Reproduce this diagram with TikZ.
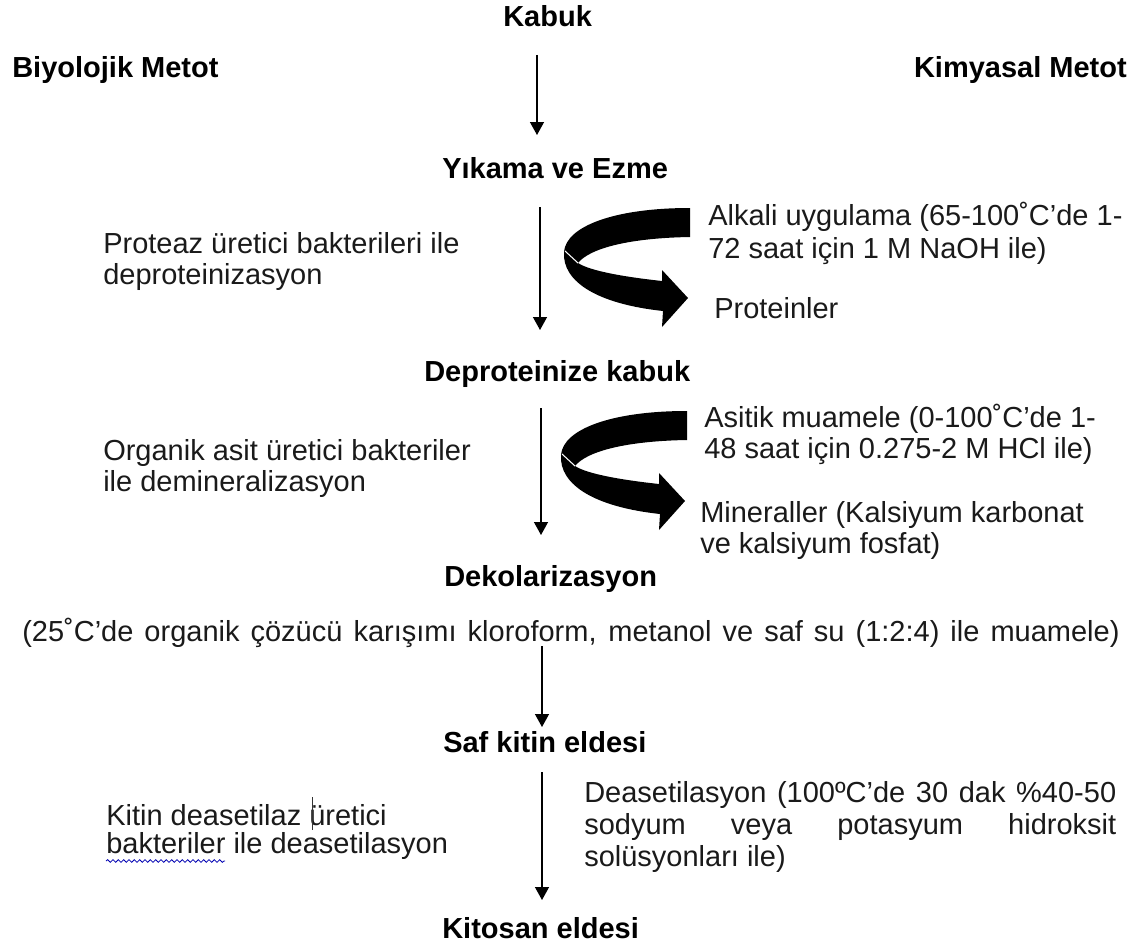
\documentclass[tikz,border=0pt]{standalone}
\usepackage{fontspec}
\setmainfont{Liberation Sans}
\usetikzlibrary{arrows.meta,decorations.pathmorphing}
\newcommand\fsz{\fontsize{21.75}{26}\selectfont}
\definecolor{ink}{HTML}{1A1A1A}
\begin{document}
\begin{tikzpicture}[x=0.75pt,y=-0.75pt,
  txt/.style={anchor=base west,inner sep=0pt,font=\fsz,text=ink},
  ttl/.style={anchor=base west,inner sep=0pt,font=\fsz\bfseries,text=black},
  flow/.style={line width=1pt,-{Triangle[length=9.75pt,width=10.5pt]}},
  curl/.pic={
    \fill (690,208) .. controls (615,208) and (566,226) .. (564,252)
      .. controls (562,282) and (598,304) .. (663,311)
      -- (662,327) -- (688,298) -- (662,270) -- (662,281)
      .. controls (625,277) and (590,271) .. (578,263)
      .. controls (590,248) and (630,238) .. (690,237) -- cycle;
    \draw[white,line width=0.8pt] (565,251) -- (578,263);
  }]
\useasboundingbox (0,0) rectangle (1146,949);
\fill[white] (0,0) rectangle (1146,949);

% titles
\node[ttl] (kabuk) at (503,27) {Kabuk};
\node[ttl] (biyo) at (12,78) {Biyolojik Metot};
\node[ttl,anchor=base east] (kimya) at (1127,78) {Kimyasal Metot};
\node[ttl] (yikama) at (442,178) {Yıkama ve Ezme};
\node[ttl] (deprot) at (424,381) {Deproteinize kabuk};
\node[ttl] (dekol) at (444,586) {Dekolarizasyon};
\node[ttl] (saf) at (443,752) {Saf kitin eldesi};
\node[ttl] (kitosan) at (442,938) {Kitosan eldesi};

% left texts
\node[txt] (prot1) at (103,253) {Proteaz üretici bakterileri ile};
\node[txt] (prot2) at (103,284) {deproteinizasyon};
\node[txt] (org1) at (103,460) {Organik asit üretici bakteriler};
\node[txt] (org2) at (103,491) {ile demineralizasyon};
\node[txt] (kit1) at (106,825) {Kitin deasetilaz üretici};
\node[txt] (kit2) at (106,853) {bakteriler ile deasetilasyon};
\draw[blue!70!black,line width=0.6pt,decorate,decoration={snake,amplitude=1pt,segment length=4pt}]
  (106,861) -- (225,861);
\draw[black!80,line width=0.6pt] (312,797) -- (312,830);

% right texts
\node[txt] (alk1) at (708,225) {Alkali uygulama (65-100˚C’de 1-};
\node[txt] (alk2) at (708,258) {72 saat için 1 M NaOH ile)};
\node[txt] (prote) at (714,318) {Proteinler};
\node[txt] (asit1) at (704,427) {Asitik muamele (0-100˚C’de 1-};
\node[txt] (asit2) at (704,458) {48 saat için 0.275-2 M HCl ile)};
\node[txt] (min1) at (700,522) {Mineraller (Kalsiyum karbonat};
\node[txt] (min2) at (700,553) {ve kalsiyum fosfat)};
\node[txt] (deas1) at (584,802) {\makebox[399pt][s]{Deasetilasyon (100ºC’de 30 dak \%40-50}};
\node[txt] (deas2) at (584,834) {\makebox[399pt][s]{sodyum veya potasyum hidroksit}};
\node[txt] (deas3) at (584,866) {solüsyonları ile)};

% long line
\node[txt] (cozucu) at (22,641) {\makebox[823pt][s]{(25˚C’de organik çözücü karışımı kloroform, metanol ve saf su (1:2:4) ile muamele)}};

% curved arrows
\pic at (0,0) {curl};
\pic at (-3,203) {curl};

% vertical arrows
\coordinate (a1s) at (537,55);   \coordinate (a1e) at (537,135);
\coordinate (a2s) at (540,207);  \coordinate (a2e) at (540,330);
\coordinate (a3s) at (541,408);  \coordinate (a3e) at (541,535);
\coordinate (a4s) at (542,646);  \coordinate (a4e) at (542,727);
\coordinate (a5s) at (542,772);  \coordinate (a5e) at (542,900);
\draw[flow] (a1s) -- (a1e);
\draw[flow] (a2s) -- (a2e);
\draw[flow] (a3s) -- (a3e);
\draw[flow] (a4s) -- (a4e);
\draw[flow] (a5s) -- (a5e);
\end{tikzpicture}
\end{document}
